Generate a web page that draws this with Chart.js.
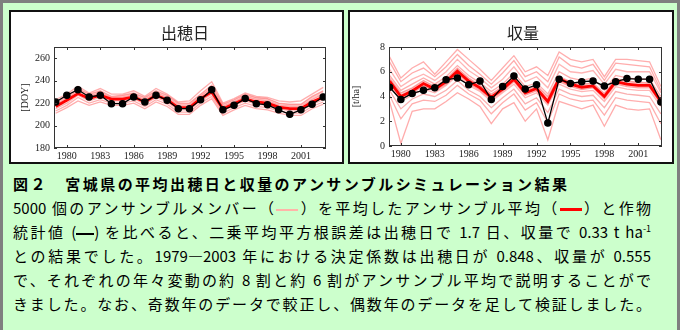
<!DOCTYPE html>
<html lang="ja">
<head>
<meta charset="utf-8">
<script src="https://cdn.jsdelivr.net/npm/chart.js@4.4.1/dist/chart.umd.min.js"></script>
<style>
  html, body { margin: 0; padding: 0; }
  body { position: relative; width: 680px; height: 330px; overflow: hidden; background: #ccffcc; }
  #frame { position: absolute; left: 0; top: 0; width: 680px; height: 334px; box-sizing: border-box; border: 3px solid #7f7f7f; }
  .panel { position: absolute; top: 10px; height: 154px; box-sizing: border-box; border: 2px solid #111; background: #fff; }
  #p1 { left: 9px; width: 335px; }
  #p2 { left: 348px; width: 326px; }
  .panel canvas { position: absolute; left: 0; top: 0; }
  .ptitle { position: absolute; top: 8px; font: 16px "Noto Sans CJK JP", sans-serif; color: #222; transform: translateX(-50%); white-space: nowrap; }
  .cap { position: absolute; left: 13px; width: 638px; font: 15px/24px "Noto Sans CJK JP", sans-serif; color: #000; text-align: justify; text-align-last: justify; }
  .cap.head { font-weight: 700; width: 554px; }
  .sw { display: inline-block; width: 22px; height: 0; vertical-align: middle; }
  .sup { position: relative; top: -6px; font-size: 9px; }
</style>
</head>
<body>
<div id="frame"></div>

<div class="panel" id="p1">
  <canvas id="headingChart" width="331" height="150"></canvas>
  <div class="ptitle" style="left:174px">出穂日</div>
</div>
<div class="panel" id="p2">
  <canvas id="yieldChart" width="322" height="150"></canvas>
  <div class="ptitle" style="left:173px">収量</div>
</div>

<div class="cap head" style="top:172px">図２　宮城県の平均出穂日と収量のアンサンブルシミュレーション結果</div>
<div class="cap" style="top:196px">5000 個のアンサンブルメンバー（<span class="sw" style="border-top:2px solid #ffb4a8"></span>）を平均したアンサンブル平均（<span class="sw" style="border-top:3px solid #ff0000"></span>）と作物</div>
<div class="cap" style="top:220px">統計値 (<span class="sw" style="width:18px;border-top:2px solid #000"></span>) を比べると、二乗平均平方根誤差は出穂日で 1.7 日、収量で 0.33 t ha<span class="sup">-1</span></div>
<div class="cap" style="top:244px">との結果でした。1979—2003 年における決定係数は出穂日が 0.848、収量が 0.555</div>
<div class="cap" style="top:268px">で、それぞれの年々変動の約 8 割と約 6 割がアンサンブル平均で説明することがで</div>
<div class="cap" style="top:292px">きました。なお、奇数年のデータで較正し、偶数年のデータを足して検証しました。</div>

<script>
// Years and axis ticks
const YEARS = [1979, 1980, 1981, 1982, 1983, 1984, 1985, 1986, 1987, 1988, 1989, 1990, 1991,
               1992, 1993, 1994, 1995, 1996, 1997, 1998, 1999, 2000, 2001, 2002, 2003];
const X_TICKS = [1980, 1983, 1986, 1989, 1992, 1995, 1998, 2001];
const HEADING_Y_TICKS = [180, 200, 220, 240, 260];
const YIELD_Y_TICKS = [0, 2, 4, 6, 8];

// 出穂日 [DOY]
const HEADING_OBS  = [221, 227, 232, 225.5, 227, 219.5, 219.5, 225.5, 221, 227, 222.5, 215, 215,
                      223, 232, 214, 218, 224, 219.5, 218.5, 214, 210, 214, 219, 225.5];
const HEADING_MEAN = [217, 222.5, 228.5, 224, 227, 223.5, 223.5, 225.5, 221, 227, 223, 216, 216,
                      224, 230, 215, 219.5, 224, 221, 220, 216.5, 215, 215, 221, 225.5];
const HEADING_M1 = [223, 228, 235, 229, 233, 228, 228, 231, 226, 233, 228, 221, 222, 231, 239, 220, 224, 229, 226, 225, 222, 221, 222, 228, 234];
const HEADING_M2 = [221, 226, 233, 228, 231, 226, 227, 229, 225, 231, 227, 220, 220, 228, 236, 219, 223, 228, 225, 224, 220, 219, 219, 226, 231];
const HEADING_M3 = [219, 224, 231, 226, 229, 225, 225, 227, 223, 229, 225, 218, 218, 226, 233, 217, 221, 226, 223, 222, 218, 217, 217, 223, 228];
const HEADING_M4 = [215, 220, 227, 222, 225, 222, 222, 224, 219, 225, 221, 214, 214, 222, 228, 213, 218, 222, 219, 218, 215, 213, 213, 219, 223];
const HEADING_M5 = [213, 218, 225, 220, 223, 220, 220, 222, 217, 223, 219, 212, 212, 220, 226, 211, 216, 220, 217, 216, 213, 211, 211, 217, 221];
const HEADING_M6 = [211, 216, 222, 218, 221, 218, 218, 220, 215, 221, 217, 210, 210, 218, 224, 209, 214, 218, 215, 214, 211, 209, 209, 215, 219];

// 収量 [t/ha]
const YIELD_OBS  = [4.75, 3.75, 4.25, 4.5, 4.7, 5.35, 5.5, 4.95, 5.25, 3.75, 4.8, 5.65, 4.6,
                    4.95, 1.85, 5.4, 5.05, 5.2, 5.25, 4.85, 5.2, 5.45, 5.4, 5.4, 3.55];
const YIELD_MEAN = [5.25, 4.0, 4.45, 5.05, 4.6, 5.2, 6.05, 5.25, 4.7, 3.95, 4.6, 5.4, 4.3,
                    4.65, 3.6, 5.45, 5.0, 4.75, 4.85, 4.0, 5.2, 5.0, 4.9, 4.9, 3.6];
const YIELD_M1  = [7.2, 5.5, 6.3, 6.8, 5.8, 6.8, 7.8, 7.0, 6.2, 5.3, 6.3, 7.3, 6.0, 6.4, 5.7, 7.6, 7.0, 6.8, 7.0, 5.6, 7.0, 7.0, 6.9, 6.8, 4.8];
const YIELD_M2  = [6.8, 5.2, 5.9, 6.3, 5.6, 6.4, 7.4, 6.5, 5.8, 5.0, 5.9, 6.9, 5.6, 6.0, 5.2, 7.2, 6.5, 6.3, 6.6, 5.3, 6.7, 6.6, 6.5, 6.4, 4.5];
const YIELD_M3  = [6.2, 4.8, 5.4, 5.8, 5.3, 6.0, 7.0, 6.1, 5.5, 4.7, 5.4, 6.4, 5.2, 5.6, 4.7, 6.6, 6.0, 5.9, 6.1, 5.0, 6.2, 6.0, 6.0, 6.0, 4.3];
const YIELD_M4  = [5.7, 4.5, 5.0, 5.5, 5.0, 5.6, 6.5, 5.7, 5.1, 4.4, 5.0, 5.9, 4.8, 5.1, 4.2, 6.0, 5.5, 5.3, 5.5, 4.5, 5.7, 5.5, 5.4, 5.4, 4.0];
const YIELD_M5  = [4.9, 3.6, 4.1, 4.6, 4.3, 4.9, 5.7, 4.9, 4.4, 3.6, 4.3, 5.0, 3.9, 4.3, 3.3, 5.0, 4.6, 4.4, 4.5, 3.6, 4.8, 4.6, 4.5, 4.5, 3.2];
const YIELD_M6  = [4.5, 3.0, 3.8, 4.2, 4.0, 4.5, 5.3, 4.5, 4.0, 3.1, 3.9, 4.6, 3.4, 3.9, 2.7, 4.6, 4.2, 4.0, 4.1, 3.1, 4.4, 4.2, 4.1, 4.0, 2.6];
const YIELD_M7  = [4.1, 2.2, 3.4, 3.7, 3.6, 4.1, 4.9, 4.2, 3.7, 2.6, 3.5, 4.2, 2.9, 3.5, 1.9, 4.2, 3.8, 3.6, 3.7, 2.5, 3.9, 3.7, 3.6, 3.5, 1.8];
const YIELD_M8  = [3.6, 0.2, 2.8, 3.0, 3.0, 3.6, 4.3, 3.8, 3.2, 1.8, 3.0, 3.5, 2.0, 3.0, 0.5, 3.6, 3.3, 3.0, 3.3, 1.6, 3.3, 3.0, 2.9, 3.0, 0.5];
const YIELD_M9  = [5.5, 4.3, 4.7, 5.3, 4.8, 5.4, 6.3, 5.5, 4.9, 4.2, 4.8, 5.6, 4.5, 4.9, 4.0, 5.6, 5.2, 5.0, 5.1, 4.25, 5.45, 5.25, 5.15, 5.1, 3.8];
const YIELD_M10 = [5.05, 3.8, 4.25, 4.85, 4.45, 5.0, 5.85, 5.05, 4.5, 3.75, 4.4, 5.2, 4.1, 4.45, 3.45, 5.2, 4.8, 4.55, 4.7, 3.8, 5.0, 4.8, 4.7, 4.7, 3.4];

const MEMBER_COLORS = ['rgba(255,120,120,0.6)', 'rgba(255,90,90,0.5)', 'rgba(255,150,150,0.7)', 'rgba(245,80,80,0.45)'];

// box frame with small inward ticks on all four sides
const frameTicks = {
  id: 'frameTicks',
  afterDatasetsDraw(chart) {
    const { ctx, chartArea: a, scales: { x, y } } = chart;
    ctx.save();
    ctx.strokeStyle = '#333';
    ctx.lineWidth = 1;
    ctx.strokeRect(a.left + 0.5, a.top + 0.5, a.right - a.left - 1, a.bottom - a.top - 1);
    ctx.beginPath();
    x.ticks.forEach(t => {
      const px = Math.round(x.getPixelForValue(t.value)) + 0.5;
      ctx.moveTo(px, a.bottom); ctx.lineTo(px, a.bottom - 3);
      ctx.moveTo(px, a.top); ctx.lineTo(px, a.top + 3);
    });
    y.ticks.forEach(t => {
      const py = Math.round(y.getPixelForValue(t.value)) + 0.5;
      ctx.moveTo(a.left, py); ctx.lineTo(a.left + 3, py);
      ctx.moveTo(a.right, py); ctx.lineTo(a.right - 3, py);
    });
    ctx.stroke();
    ctx.restore();
  }
};

function series(values) {
  return YEARS.map((yr, i) => ({ x: yr, y: values[i] }));
}

function buildChart(id, cfg) {
  const members = cfg.members.map((vals, i) => ({
    data: series(vals),
    borderColor: MEMBER_COLORS[i % MEMBER_COLORS.length],
    borderWidth: 1.3,
    pointRadius: 0,
    fill: i === cfg.bandFrom ? '+1' : false,
    backgroundColor: 'rgba(255,110,110,0.4)'
  }));

  const tickFont = { family: 'Liberation Serif', size: 10 };

  return new Chart(document.getElementById(id), {
    type: 'line',
    data: {
      datasets: [{
        data: series(cfg.obs),
        borderColor: '#000',
        borderWidth: 1.3,
        pointRadius: 3.1,
        pointBackgroundColor: '#000',
        pointBorderColor: '#000',
        fill: false
      }, {
        data: series(cfg.mean),
        borderColor: '#ff0000',
        borderWidth: 2.8,
        pointRadius: 0,
        fill: false
      }].concat(members)
    },
    options: {
      responsive: false,
      animation: false,
      layout: { padding: { top: 35, right: cfg.padRight, bottom: 0, left: 0 } },
      plugins: {
        legend: { display: false },
        tooltip: { enabled: false }
      },
      scales: {
        x: {
          type: 'linear',
          min: cfg.xMin,
          max: cfg.xMax,
          afterBuildTicks: s => { s.ticks = X_TICKS.map(v => ({ value: v })); },
          afterFit: s => { s.height = cfg.xAxisHeight; },
          grid: { display: false, drawTicks: false },
          border: { display: false },
          ticks: { padding: 2, font: tickFont, color: '#222', maxRotation: 0, autoSkip: false,
                   callback: v => String(v) }
        },
        y: {
          min: cfg.yMin,
          max: cfg.yMax,
          afterBuildTicks: s => { s.ticks = cfg.yTicks.map(v => ({ value: v })); },
          afterFit: s => { s.width = cfg.yAxisWidth; },
          grid: { display: false, drawTicks: false },
          border: { display: false },
          ticks: { padding: 4, font: tickFont, color: '#222', callback: v => String(v) },
          title: { display: true, text: cfg.yTitle, font: tickFont, color: '#222',
                   padding: { top: cfg.titlePad, bottom: 0 } }
        }
      }
    },
    plugins: [frameTicks]
  });
}

buildChart('headingChart', {
  obs: HEADING_OBS,
  mean: HEADING_MEAN,
  members: [HEADING_M1, HEADING_M2, HEADING_M3, HEADING_M4, HEADING_M5, HEADING_M6],
  bandFrom: 1,
  xMin: 1978.85, xMax: 2003.25,
  yMin: 180, yMax: 270,
  yTicks: HEADING_Y_TICKS,
  yTitle: '[DOY]',
  yAxisWidth: 43, xAxisHeight: 14, padRight: 16, titlePad: 8
});

buildChart('yieldChart', {
  obs: YIELD_OBS,
  mean: YIELD_MEAN,
  members: [YIELD_M1, YIELD_M2, YIELD_M3, YIELD_M9, YIELD_M10, YIELD_M4, YIELD_M5, YIELD_M6, YIELD_M7, YIELD_M8],
  bandFrom: 3,
  xMin: 1978.95, xMax: 2003.1,
  yMin: 0, yMax: 8,
  yTicks: YIELD_Y_TICKS,
  yTitle: '[t/ha]',
  yAxisWidth: 39, xAxisHeight: 16, padRight: 10, titlePad: 0
});
</script>
</body>
</html>
